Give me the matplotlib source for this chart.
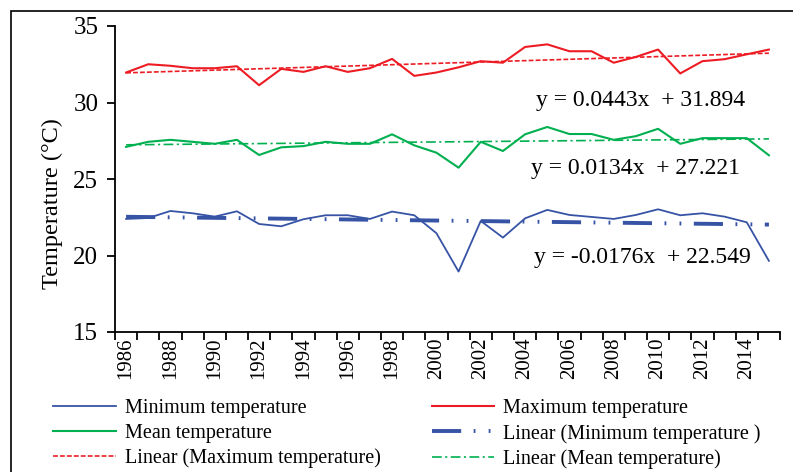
import numpy as np
import matplotlib
matplotlib.use('Agg')
from matplotlib import pyplot as plt
from matplotlib.patches import Rectangle

years = list(range(1986, 2016))
min_temp = [22.39, 22.45, 22.91, 22.76, 22.54, 22.89, 22.06, 21.91, 22.37, 22.63,
            22.63, 22.39, 22.87, 22.63, 21.46, 18.95, 22.26, 21.17, 22.43, 22.98,
            22.65, 22.52, 22.39, 22.65, 23.02, 22.63, 22.76, 22.54, 22.17, 19.65]
max_temp = [31.96, 32.50, 32.40, 32.24, 32.24, 32.37, 31.13, 32.20, 32.00, 32.37,
            32.00, 32.24, 32.85, 31.74, 31.96, 32.30, 32.70, 32.60, 33.63, 33.80,
            33.35, 33.35, 32.60, 32.98, 33.46, 31.90, 32.70, 32.83, 33.15, 33.46]
mean_temp = [27.10, 27.43, 27.56, 27.43, 27.30, 27.56, 26.57, 27.07, 27.15, 27.43,
             27.30, 27.30, 27.92, 27.20, 26.72, 25.74, 27.43, 26.83, 27.92, 28.40,
             27.94, 27.94, 27.56, 27.80, 28.28, 27.30, 27.67, 27.67, 27.67, 26.55]

# trend coefficients as printed on the chart (x = 1..30)
min_slope, min_icpt = -0.0176, 22.549
max_slope, max_icpt = 0.0443, 31.894
mean_slope, mean_icpt = 0.0134, 27.221

blue = '#3753A5'
red = '#ED1C24'
green = '#00B050'

plt.rcParams['font.family'] = ['Liberation Serif', 'DejaVu Serif']
plt.rcParams['lines.scale_dashes'] = False

fig = plt.figure(figsize=(7.93, 4.72), dpi=100)
ax = fig.add_axes([115 / 793, 1 - 332 / 472, 665 / 793, 306 / 472])

xs = np.arange(len(years))
xt = xs + 1
l_min, = ax.plot(xs, min_temp, color=blue, lw=1.3)
l_max, = ax.plot(xs, max_temp, color=red, lw=1.5)
l_mean, = ax.plot(xs, mean_temp, color=green, lw=1.5)
t_min, = ax.plot(xs, min_slope * xt + min_icpt, color=blue, lw=2.8,
                 ls=(0, (21, 9, 1.3, 9.5, 1.3, 9)))
t_max, = ax.plot(xs, max_slope * xt + max_icpt, color=red, lw=1.2,
                 ls=(0, (3.5, 1.5)))
t_mean, = ax.plot(xs, mean_slope * xt + mean_icpt, color=green, lw=1.2,
                  ls=(0, (7, 2.5, 1.5, 2.5)))

ax.text(23.2, 30.15, 'y = 0.0443x  + 31.894', fontsize=17, ha='center', va='center')
ax.text(23.0, 25.7, 'y = 0.0134x  + 27.221', fontsize=17, ha='center', va='center')
ax.text(23.3, 19.85, 'y = -0.0176x  + 22.549', fontsize=17, ha='center', va='center')

ax.set_xlim(-0.5, 29.5)
ax.set_ylim(15, 35)
ax.set_yticks([15, 20, 25, 30, 35])
ax.tick_params(axis='y', labelsize=18, length=6, width=1.3, direction='out', pad=6)
ax.set_xticks(xs[::2])
ax.set_xticklabels([str(y) for y in years[::2]], rotation=90)
ax.set_xticks(np.arange(-0.5, 30, 1), minor=True)
ax.tick_params(axis='x', which='major', length=0, labelsize=15, pad=4)
ax.tick_params(axis='x', which='minor', length=6, width=1.3, direction='out')
ax.set_ylabel('Temperature (°C)', fontsize=17.5)
ax.yaxis.set_label_coords(-0.078, 0.42)
for s in ['top', 'right']:
    ax.spines[s].set_visible(False)
for s in ['left', 'bottom']:
    ax.spines[s].set_linewidth(1.3)

handles = [l_min, l_mean, t_max, l_max, t_min, t_mean]
labels = ['Minimum temperature', 'Mean temperature', 'Linear (Maximum temperature)',
          'Maximum temperature', 'Linear (Minimum temperature )', 'Linear (Mean temperature)']
fig.legend(handles, labels, ncol=2, loc='upper left', bbox_to_anchor=(43 / 793, 1 - 389 / 472),
           frameon=False, fontsize=14.5, handlelength=3.1, handletextpad=0.45,
           columnspacing=2.55, labelspacing=0.28, borderpad=0)

fig.patches.append(Rectangle((11 / 793, -0.1), 1.2, 1.1 - 11 / 472,
                             transform=fig.transFigure, fill=False, edgecolor='black', lw=1.2))

fig.savefig('out.png', dpi=100)
